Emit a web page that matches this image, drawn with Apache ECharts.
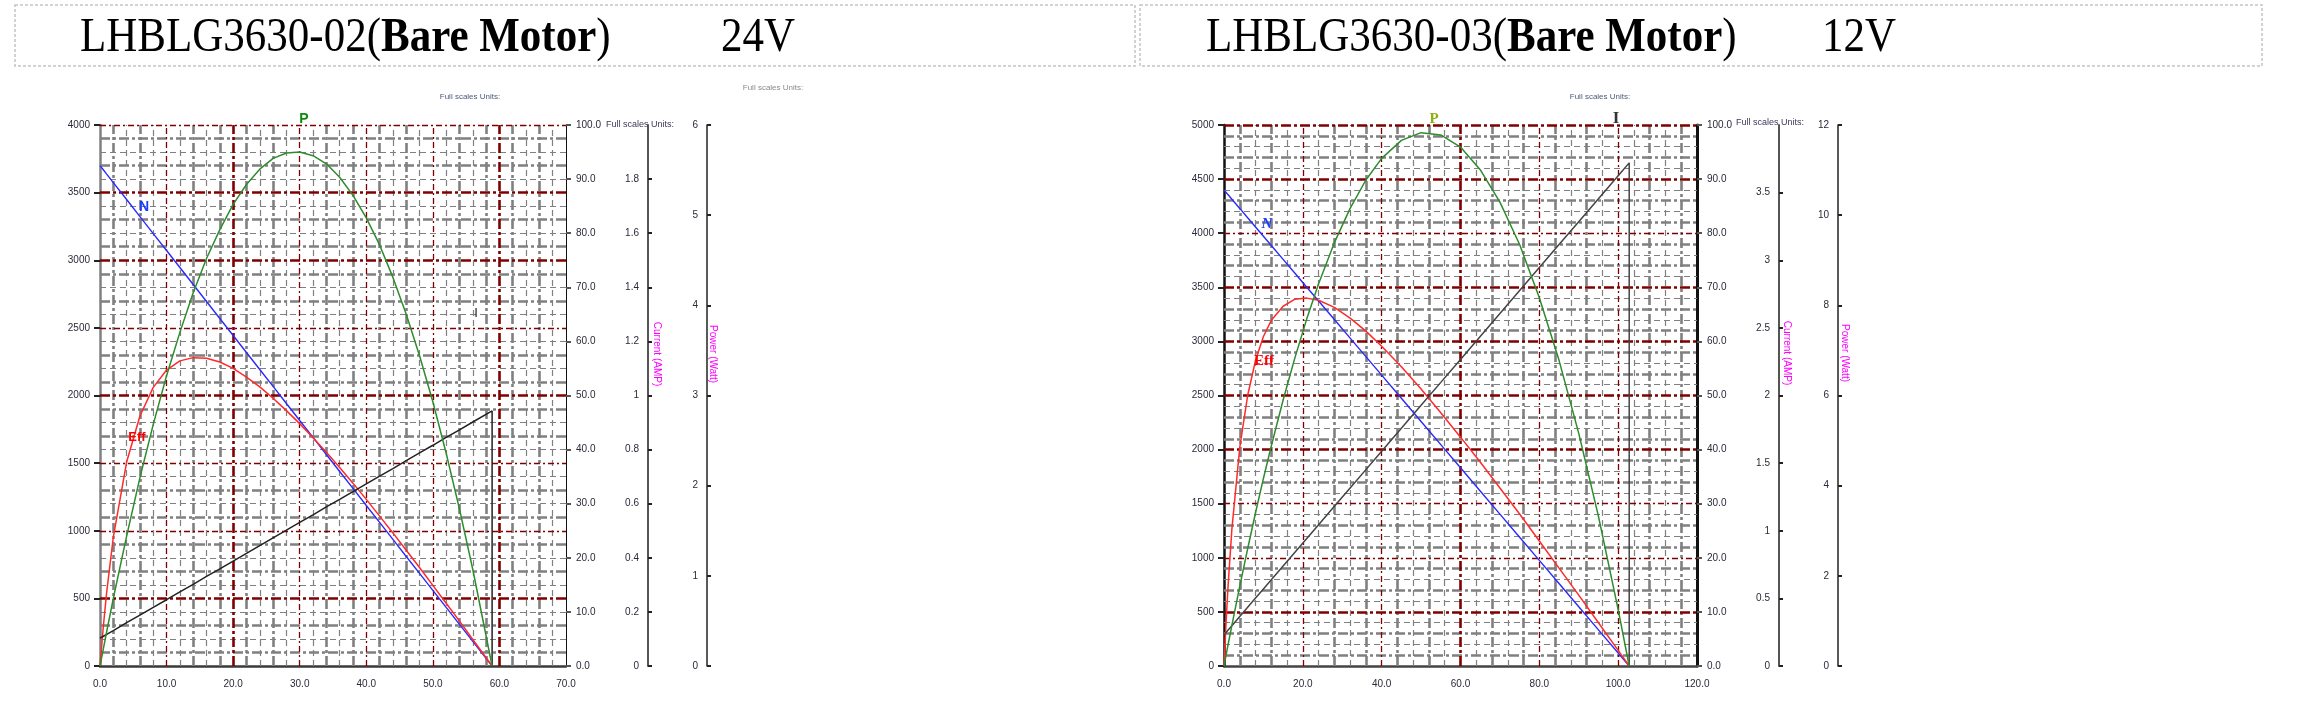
<!DOCTYPE html>
<html>
<head>
<meta charset="utf-8">
<script src="https://cdn.jsdelivr.net/npm/echarts@6/dist/echarts.min.js"></script>
<style>
html,body{margin:0;padding:0;background:#fff;}
#chart{width:2317px;height:703px;}
</style>
</head>
<body>
<div id="chart"></div>
<script>
// ---------- DATA: LHBLG3630-02 (24V) ----------
const torque1  = [0,0.5,1,2,4,6,8,10,12,14,16,18,20,22,24,26,28,30,32,34,36,38,40,42,44,46,48,50,52,54,56,58.9];
const speed1   = [3700,3669,3637,3574,3449,3323,3197,3072,2946,2821,2695,2569,2444,2318,2192,2067,1941,1815,1690,1564,1438,1313,1187,1062,936,810,685,559,433,308,182,0];
const current1 = [0.103,0.110,0.117,0.131,0.160,0.188,0.217,0.245,0.274,0.302,0.331,0.359,0.388,0.416,0.445,0.474,0.502,0.531,0.559,0.588,0.616,0.645,0.673,0.702,0.730,0.759,0.788,0.816,0.845,0.873,0.902,0.943];
const power1   = [0,0.19,0.38,0.75,1.44,2.09,2.68,3.22,3.70,4.14,4.52,4.84,5.12,5.34,5.51,5.63,5.69,5.70,5.66,5.57,5.42,5.22,4.97,4.67,4.31,3.90,3.44,2.93,2.36,1.74,1.07,0];
const eff1     = [0,7.3,13.6,23.8,37.7,46.2,51.5,54.7,56.4,57.0,56.9,56.2,55.0,53.4,51.6,49.5,47.2,44.8,42.2,39.5,36.7,33.8,30.8,27.7,24.6,21.4,18.2,14.9,11.6,8.3,4.9,0];

// ---------- DATA: LHBLG3630-03 (12V) ----------
const torque2  = [0,0.5,1,2,4,6,8,10,12,15,18,21,24,28,32,36,40,45,50,55,60,65,70,75,80,85,90,95,100,102.8];
const speed2   = [4400,4379,4357,4314,4229,4143,4058,3972,3886,3758,3630,3501,3373,3202,3030,2859,2688,2474,2260,2046,1832,1618,1404,1190,976,762,548,334,120,0];
const current2 = [0.230,0.247,0.264,0.298,0.366,0.434,0.502,0.570,0.637,0.739,0.841,0.943,1.045,1.181,1.316,1.452,1.588,1.758,1.928,2.097,2.267,2.437,2.606,2.776,2.946,3.116,3.285,3.455,3.625,3.720];
const power2   = [0,0.23,0.46,0.90,1.77,2.60,3.40,4.16,4.88,5.90,6.84,7.70,8.48,9.39,10.15,10.78,11.26,11.66,11.83,11.78,11.51,11.01,10.29,9.35,8.17,6.78,5.16,3.32,1.25,0];
const eff2     = [0,7.7,14.4,25.3,40.4,50.0,56.5,60.9,63.9,66.5,67.8,68.0,67.6,66.3,64.3,61.9,59.1,55.3,51.2,46.8,42.3,37.7,32.9,28.1,23.1,18.1,13.1,8.0,2.9,0];

// ---------- TEXT ----------
const titles = [
  {model:'LHBLG3630-02(', bold:'Bare Motor', tail:')', volt:'24V'},
  {model:'LHBLG3630-03(', bold:'Bare Motor', tail:')', volt:'12V'}
];
const fullScale = 'Full scales Units:';

// ---------- STYLE ----------
const SANS = '"Liberation Sans", Arial, sans-serif';
const NARROW = '"Liberation Sans Narrow", "Liberation Sans", Arial, sans-serif';
const SERIF = '"Liberation Serif", "Times New Roman", serif';
const DARKRED = '#800000', GRAY = '#808080';

function gridLines(xMax, xMinor, xMajor, yMax, yMinor, yMajor, thickX, thickY){
  const minor = [], major = [];
  const majStyle = thick => ({color: DARKRED, width: thick ? 2.6 : 1.3, type: thick ? [10,3,3,3] : [6,3,2,3]});
  const minStyle = thick => ({color: GRAY, width: thick ? 2.6 : 1.2, type: thick ? [10,3,3,3] : [6,4]});
  for (let k = 1; k * xMinor < xMax - 1e-9; k++) {
    const v = +(k * xMinor).toFixed(6);
    if (Math.abs(v / xMajor - Math.round(v / xMajor)) < 1e-6) {
      major.push({xAxis: v, lineStyle: majStyle(thickX.includes(v))});
    } else {
      minor.push({xAxis: v, lineStyle: minStyle(k % 2 === 1)});
    }
  }
  for (let k = 1; k * yMinor <= yMax + 1e-9; k++) {
    const v = +(k * yMinor).toFixed(6);
    if (Math.abs(v / yMajor - Math.round(v / yMajor)) < 1e-6) {
      major.push({yAxis: v, lineStyle: majStyle(thickY.includes(v))});
    } else {
      minor.push({yAxis: v, lineStyle: minStyle(k % 2 === 1)});
    }
  }
  return minor.concat(major);
}

function pairs(xs, ys){ return xs.map((x, i) => [x, ys[i]]); }

const lbl = {fontFamily: SANS, fontSize: 10, color: '#2a2a3a'};

function xAxisDef(gi, max, interval, lineColor){
  return {type:'value', gridIndex:gi, min:0, max:max, interval:interval,
    axisLine:{show:true, onZero:false, lineStyle:{color:lineColor, width:2.5}},
    axisTick:{show:false}, splitLine:{show:false},
    axisLabel:Object.assign({margin:13, formatter:v => v.toFixed(1)}, lbl)};
}
function yAxes(gi, spdMax, curMax, curInt, powMax, powInt, leftColor, rightW){
  return [
    {type:'value', gridIndex:gi, position:'left', min:0, max:spdMax, interval:500,
      axisLine:{show:true, onZero:false, lineStyle:{color:leftColor, width:2.5}},
      axisTick:{show:true, length:6, lineStyle:{color:'#222', width:2}},
      splitLine:{show:false}, axisLabel:Object.assign({margin:10, formatter:v => String(v)}, lbl)},
    {type:'value', gridIndex:gi, position:'right', min:0, max:100, interval:10,
      axisLine:{show:true, onZero:false, lineStyle:{color:'#111', width:rightW}},
      axisTick:{show:true, length:5, lineStyle:{color:'#555', width:2}},
      splitLine:{show:false}, axisLabel:Object.assign({margin:10, formatter:v => v.toFixed(1)}, lbl)},
    {type:'value', gridIndex:gi, position:'right', offset:82, min:0, max:curMax, interval:curInt,
      axisLine:{show:true, onZero:false, lineStyle:{color:'#555', width:2}},
      axisTick:{show:true, length:4, lineStyle:{color:'#222', width:2}},
      splitLine:{show:false},
      axisLabel:Object.assign({inside:true, margin:9, showMaxLabel:false, formatter:v => String(+v.toFixed(2))}, lbl)},
    {type:'value', gridIndex:gi, position:'right', offset:141, min:0, max:powMax, interval:powInt,
      axisLine:{show:true, onZero:false, lineStyle:{color:'#222', width:1.5}},
      axisTick:{show:true, length:4, lineStyle:{color:'#222', width:2}},
      splitLine:{show:false},
      axisLabel:Object.assign({inside:true, margin:9, formatter:v => String(v)}, lbl)}
  ];
}

function curveSeries(xi, yBase, t, spd, cur, pow, eff, iColor){
  const curData = pairs(t, cur);
  curData.push([t[t.length - 1], 0]);
  const common = {type:'line', xAxisIndex:xi, showSymbol:false, symbol:'none', z:5, silent:true};
  return [
    Object.assign({name:'N', yAxisIndex:yBase,     data:pairs(t, spd), lineStyle:{color:'#2a2aff', width:1.4}}, common),
    Object.assign({name:'Eff', yAxisIndex:yBase+1, data:pairs(t, eff), lineStyle:{color:'#ff2a2a', width:1.5}}, common),
    Object.assign({name:'I', yAxisIndex:yBase+2,   data:curData,       lineStyle:{color:iColor, width:1.5}}, common),
    Object.assign({name:'P', yAxisIndex:yBase+3,   data:pairs(t, pow), lineStyle:{color:'#2e8b2e', width:1.5}}, common)
  ];
}

function gridSeries(xi, yi, lines){
  return {type:'line', xAxisIndex:xi, yAxisIndex:yi, data:[], symbol:'none', silent:true, z:1,
    markLine:{silent:true, symbol:['none','none'], label:{show:false}, animation:false,
      emphasis:{disabled:true}, data:lines}};
}

function txt(x, y, text, font, fill, extra){
  return Object.assign({type:'text', x:x, y:y, silent:true, z:50,
    style:{text:text, font:font, fill:fill, align:'center', verticalAlign:'middle'}}, extra || {});
}

function titleGraphic(x, vx, t){
  return [
    {type:'text', x:x, y:38, silent:true, z:50, scaleY:1.15, originX:0, originY:0,
      style:{text:'{n|' + t.model + '}{b|' + t.bold + '}{n|' + t.tail + '}', align:'left', verticalAlign:'middle',
        rich:{n:{fontFamily:SERIF, fontSize:43, fill:'#000'}, b:{fontFamily:SERIF, fontSize:43, fontWeight:'bold', fill:'#000'}}}},
    {type:'text', x:vx, y:38, silent:true, z:50, scaleY:1.15, originX:0, originY:0,
      style:{text:t.volt, font:'43px ' + SERIF, fill:'#000', align:'left', verticalAlign:'middle'}}
  ];
}

const chart = echarts.init(document.getElementById('chart'), null, {renderer:'canvas'});
const option = {
  animation:false,
  backgroundColor:'#ffffff',
  grid:[
    {left:100, top:125, width:466, height:541},
    {left:1224, top:125, width:473, height:541}
  ],
  xAxis:[ xAxisDef(0, 70, 10, '#3a3a3a'), xAxisDef(1, 120, 20, '#444') ],
  yAxis:[].concat(
    yAxes(0, 4000, 2, 0.2, 6, 1, '#808080', 1),
    yAxes(1, 5000, 4, 0.5, 12, 2, '#111', 3)
  ),
  series:[
    gridSeries(0, 0, gridLines(70, 2, 10, 4000, 100, 500, [20,60], [500,2000,3000,3500])),
    gridSeries(1, 4, gridLines(120, 4, 20, 5000, 100, 500, [60], [500,2000,2500,3000,3500,4500,5000]))
  ].concat(
    curveSeries(0, 0, torque1, speed1, current1, power1, eff1, '#222'),
    curveSeries(1, 4, torque2, speed2, current2, power2, eff2, '#444')
  ),
  graphic:[].concat(
    [
      {type:'rect', shape:{x:15, y:5, width:1120, height:61}, silent:true, z:40,
        style:{fill:'none', stroke:'#c4c4c4', lineWidth:1.5, lineDash:[3,2]}},
      {type:'rect', shape:{x:1140, y:5, width:1122, height:61}, silent:true, z:40,
        style:{fill:'none', stroke:'#c4c4c4', lineWidth:1.5, lineDash:[3,2]}}
    ],
    titleGraphic(80, 721, titles[0]),
    titleGraphic(1206, 1822, titles[1]),
    [
      txt(470, 97, fullScale, '8px ' + NARROW, '#4a5a7a'),
      txt(773, 88, fullScale, '8px ' + NARROW, '#8a8a8a'),
      txt(640, 125, fullScale, '9px ' + NARROW, '#3a3a5a'),
      txt(1600, 97, fullScale, '8px ' + NARROW, '#4a5a7a'),
      txt(1770, 123, fullScale, '9px ' + NARROW, '#3a3a5a'),
      txt(657, 354, 'Current (AMP)', '10px ' + SANS, '#ff00ff', {rotation:-Math.PI/2}),
      txt(713, 354, 'Power (Watt)', '10px ' + SANS, '#ff00ff', {rotation:-Math.PI/2}),
      txt(1787, 353, 'Current (AMP)', '10px ' + SANS, '#ff00ff', {rotation:-Math.PI/2}),
      txt(1845, 353, 'Power (Watt)', '10px ' + SANS, '#ff00ff', {rotation:-Math.PI/2}),
      // curve labels chart 1
      txt(304, 119, 'P', 'bold 14px ' + SANS, '#108a10'),
      txt(144, 207, 'N', 'bold 14px ' + SANS, '#1a3cff'),
      txt(476, 313, 'I', '13px ' + SANS, '#222'),
      txt(137, 437, 'Eff', 'bold 13px ' + SANS, '#ff0000'),
      // curve labels chart 2
      txt(1434, 119, 'P', 'bold 15px ' + SERIF, '#8fae10'),
      txt(1616, 119, 'I', 'bold 17px ' + SERIF, '#333'),
      txt(1267, 224, 'N', 'bold italic 15px ' + SERIF, '#1a3cff'),
      txt(1264, 361, 'Eff', 'bold 15px ' + SERIF, '#ff0000')
    ]
  )
};
chart.setOption(option);
</script>
</body>
</html>
